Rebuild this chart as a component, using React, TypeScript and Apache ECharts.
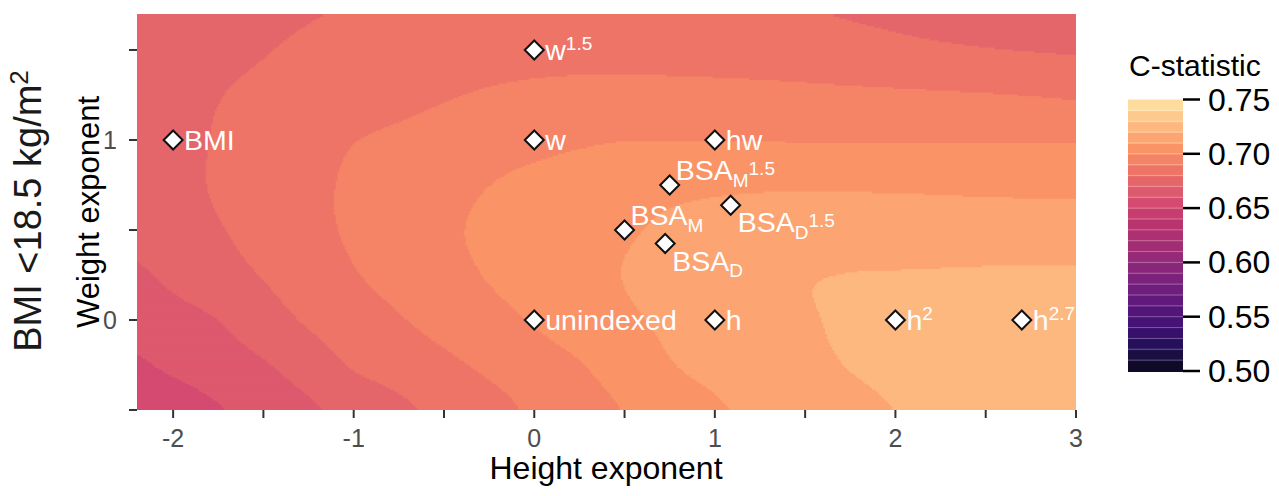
import React, { useEffect, useRef } from "react";
import * as echarts from "echarts";

const FONT = "'Liberation Sans', Arial, Helvetica, sans-serif";

// ---- C-statistic surface at a 0.25 x 0.25 lattice ----
// columns: height exponent, rows: weight exponent
const heightExponentGrid = [-2.25, -2.0, -1.75, -1.5, -1.25, -1.0, -0.75, -0.5, -0.25, 0, 0.25, 0.5, 0.75, 1.0, 1.25, 1.5, 1.75, 2.0, 2.25, 2.5, 2.75, 3.0];
const weightExponentGrid = [-0.5, -0.25, 0, 0.25, 0.5, 0.75, 1.0, 1.25, 1.5, 1.75];

const cStatW_m050 = [0.651, 0.6547, 0.6593, 0.6638, 0.6684, 0.6731, 0.6779, 0.6825, 0.687, 0.6914, 0.6961, 0.7003, 0.7046, 0.7088, 0.712, 0.7147, 0.7174, 0.7201, 0.722, 0.7235, 0.7245, 0.7252];
const cStatW_m025 = [0.658, 0.6617, 0.6654, 0.669, 0.6747, 0.6807, 0.6843, 0.6879, 0.6916, 0.6955, 0.6994, 0.7043, 0.7094, 0.7124, 0.7151, 0.7178, 0.7203, 0.7222, 0.7237, 0.7248, 0.7255, 0.7258];
const cStatW_000 = [0.6633, 0.6666, 0.6699, 0.6756, 0.681, 0.6851, 0.6892, 0.693, 0.6968, 0.7006, 0.7045, 0.7084, 0.7115, 0.7141, 0.7166, 0.7192, 0.7212, 0.7228, 0.724, 0.7249, 0.7254, 0.7256];
const cStatW_025 = [0.668, 0.6719, 0.6761, 0.6804, 0.6848, 0.6893, 0.6931, 0.6969, 0.7005, 0.7038, 0.707, 0.7102, 0.7124, 0.7148, 0.717, 0.7193, 0.7203, 0.7206, 0.7209, 0.7212, 0.7214, 0.7215];
const cStatW_050 = [0.6722, 0.6757, 0.6793, 0.6833, 0.6874, 0.6913, 0.6949, 0.6986, 0.7015, 0.704, 0.7066, 0.7091, 0.7112, 0.7125, 0.7135, 0.7142, 0.7146, 0.7148, 0.7149, 0.715, 0.715, 0.715];
const cStatW_075 = [0.6738, 0.6774, 0.6809, 0.6845, 0.688, 0.6913, 0.6942, 0.6971, 0.7, 0.7028, 0.705, 0.7068, 0.708, 0.7087, 0.7091, 0.7092, 0.7091, 0.7089, 0.7086, 0.7082, 0.708, 0.7078];
const cStatW_100 = [0.6745, 0.6776, 0.6806, 0.6836, 0.6867, 0.6898, 0.6917, 0.6935, 0.6953, 0.6971, 0.6989, 0.7, 0.7001, 0.7, 0.6999, 0.6998, 0.6998, 0.6997, 0.6997, 0.6996, 0.6996, 0.6995];
const cStatW_125 = [0.6759, 0.6778, 0.6798, 0.6817, 0.6836, 0.6855, 0.6875, 0.6894, 0.691, 0.6922, 0.693, 0.6933, 0.6934, 0.6933, 0.6931, 0.6927, 0.6922, 0.6917, 0.6912, 0.6907, 0.69, 0.6892];
const cStatW_150 = [0.6748, 0.6765, 0.6782, 0.6797, 0.6813, 0.6828, 0.6842, 0.6853, 0.6861, 0.6866, 0.6868, 0.6866, 0.6862, 0.6856, 0.6848, 0.6839, 0.6829, 0.682, 0.6812, 0.6805, 0.6799, 0.6794];
const cStatW_175 = [0.673, 0.6748, 0.6766, 0.6782, 0.6794, 0.6802, 0.6809, 0.6814, 0.6818, 0.682, 0.682, 0.6818, 0.6814, 0.681, 0.6805, 0.6799, 0.6793, 0.6787, 0.678, 0.6774, 0.6768, 0.6762];

const cStatGrid = [cStatW_m050, cStatW_m025, cStatW_000, cStatW_025, cStatW_050, cStatW_075, cStatW_100, cStatW_125, cStatW_150, cStatW_175];

// ---- indexing methods ----
const pointNames = ["BMI", "w^1.5", "w", "hw", "BSA_M^1.5", "BSA_D^1.5", "BSA_M", "BSA_D", "unindexed", "h", "h^2", "h^2.7"];
const pointHeightExp = [-2, 0, 0, 1, 0.75, 1.0875, 0.5, 0.725, 0, 1, 2, 2.7];
const pointWeightExp = [1, 1.5, 1, 1, 0.75, 0.6375, 0.5, 0.425, 0, 0, 0, 0];
const pointLabelSide = ["right", "right", "right", "right", "above", "below", "above", "below", "right", "right", "right", "right"];

// ---- colour scale ----
const binWidth = 0.01;
const scaleMin = 0.5;
const scaleMax = 0.75;
const binColors = [
  "#0F0A27", "#1A0E42", "#27105A", "#36106B", "#451275",
  "#53157A", "#611A7C", "#6E1E7D", "#7B227C", "#88267A",
  "#952A78", "#A12D74", "#AC3072", "#B8346F", "#C73D6F",
  "#D44A70", "#DD596D", "#E5666A", "#EE7467", "#F58467",
  "#FA9366", "#FCA572", "#FDB880", "#FDCA8E", "#FDDC9D",
];
const colourbarTicks = [0.5, 0.55, 0.6, 0.65, 0.7, 0.75];

// ---- axes ----
const xMin = -2.2, xMax = 3, yMin = -0.5, yMax = 1.7;
const xTickValues = [-2, -1.5, -1, -0.5, 0, 0.5, 1, 1.5, 2, 2.5, 3];
const xLabelValues = [-2, -1, 0, 1, 2, 3];
const yTickValues = [-0.5, 0, 0.5, 1, 1.5];
const yLabelValues = [0, 1];

function catmullRom(p0: number, p1: number, p2: number, p3: number, t: number) {
  return 0.5 * (2 * p1 + (-p0 + p2) * t + (2 * p0 - 5 * p1 + 4 * p2 - p3) * t * t + (-p0 + 3 * p1 - 3 * p2 + p3) * t * t * t);
}

function surface(x: number, y: number) {
  const nx = heightExponentGrid.length, ny = weightExponentGrid.length;
  const dx = heightExponentGrid[1] - heightExponentGrid[0];
  const dy = weightExponentGrid[1] - weightExponentGrid[0];
  const fx = (x - heightExponentGrid[0]) / dx;
  const fy = (y - weightExponentGrid[0]) / dy;
  const i = Math.max(0, Math.min(nx - 2, Math.floor(fx)));
  const j = Math.max(0, Math.min(ny - 2, Math.floor(fy)));
  const tx = fx - i, ty = fy - j;
  const g = (r: number, c: number) => cStatGrid[Math.max(0, Math.min(ny - 1, r))][Math.max(0, Math.min(nx - 1, c))];
  const rows: number[] = [];
  for (let r = j - 1; r <= j + 2; r++) {
    rows.push(catmullRom(g(r, i - 1), g(r, i), g(r, i + 1), g(r, i + 2), tx));
  }
  return catmullRom(rows[0], rows[1], rows[2], rows[3], ty);
}

const STEP = 0.01;
function buildRuns() {
  const runs: number[][] = [];
  const nyCells = Math.round((yMax - yMin) / STEP);
  const nxCells = Math.round((xMax - xMin) / STEP);
  const binOf = (v: number) => Math.max(0, Math.min(binColors.length - 1, Math.floor((v - scaleMin) / binWidth + 1e-9)));
  for (let r = 0; r < nyCells; r++) {
    const yc = yMin + (r + 0.5) * STEP;
    let start = xMin;
    let cur = binOf(surface(xMin + 0.5 * STEP, yc));
    for (let c = 1; c < nxCells; c++) {
      const xc = xMin + (c + 0.5) * STEP;
      const b = binOf(surface(xc, yc));
      if (b !== cur) {
        const edge = xMin + c * STEP;
        runs.push([start, edge, yc, cur]);
        start = edge;
        cur = b;
      }
    }
    runs.push([start, xMax, yc, cur]);
  }
  return runs;
}

function labelText(name: string) {
  const m = name.match(/^([^_^]+)(?:_([^^]+))?(?:\^(.+))?$/);
  if (!m) return `{b|${name}}`;
  let s = `{b|${m[1]}}`;
  if (m[2]) s += `{sub|${m[2]}}`;
  if (m[3]) s += m[2] ? `{sup2|${m[3]}}` : `{sup|${m[3]}}`;
  return s;
}

function labelOffset(side: string) {
  if (side === "above") return [6, -15];
  if (side === "below") return [7, 17];
  return [11, 0];
}

function tickSeries(xAxisIndex: number, yAxisIndex: number, values: number[], toPoint: (v: number) => number[], dx: number, dy: number, color: string, width: number) {
  return {
    type: "custom", xAxisIndex, yAxisIndex, silent: true, clip: false, z: 4,
    data: values.map((v) => [v]),
    encode: { x: -1, y: -1 },
    renderItem: (_p: any, api: any) => {
      const pt = api.coord(toPoint(api.value(0)));
      return { type: "line", shape: { x1: pt[0], y1: pt[1], x2: pt[0] + dx, y2: pt[1] + dy }, style: { stroke: color, lineWidth: width } };
    },
  };
}

export default function App() {
  const ref = useRef<HTMLDivElement>(null);
  useEffect(() => {
    if (!ref.current) return;
    const chart = echarts.init(ref.current, undefined, { renderer: "svg" });
    const runs = buildRuns();
    const binData = binColors.map((_, k) => [scaleMin + k * binWidth, scaleMin + (k + 1) * binWidth, k]);

    const richLabel = {
      b: { fontSize: 28.5, lineHeight: 28, color: "#fff", fontFamily: FONT },
      sup: { fontSize: 19, lineHeight: 19, color: "#fff", fontFamily: FONT, padding: [0, 0, 14, 0] },
      sup2: { fontSize: 19, lineHeight: 19, color: "#fff", fontFamily: FONT, padding: [0, 0, 4, 0] },
      sub: { fontSize: 19, lineHeight: 19, color: "#fff", fontFamily: FONT, padding: [20, 0, 0, 0] },
    };

    const option: any = {
      animation: false,
      backgroundColor: "#ffffff",
      textStyle: { fontFamily: FONT },
      grid: [
        { left: 137, top: 14, width: 939, height: 396, containLabel: false, outerBoundsMode: "none" },
        { left: 1128, top: 99.5, width: 55, height: 271.5, containLabel: false, outerBoundsMode: "none" },
      ],
      xAxis: [
        {
          type: "value", gridIndex: 0, min: xMin, max: xMax,
          axisLine: { show: false }, splitLine: { show: false }, axisTick: { show: false },
          axisLabel: { customValues: xLabelValues, color: "#4D4D4D", fontSize: 25, margin: 15, fontFamily: FONT, formatter: (v: number) => String(v) },
        },
        { type: "value", gridIndex: 1, min: 0, max: 1, show: false },
      ],
      yAxis: [
        {
          type: "value", gridIndex: 0, min: yMin, max: yMax,
          axisLine: { show: false }, splitLine: { show: false }, axisTick: { show: false },
          axisLabel: { customValues: yLabelValues, color: "#4D4D4D", fontSize: 25, margin: 20, fontFamily: FONT, formatter: (v: number) => String(v) },
        },
        {
          type: "value", gridIndex: 1, min: scaleMin, max: scaleMax, interval: 0.05, position: "right",
          axisLine: { show: false }, splitLine: { show: false }, axisTick: { show: false },
          axisLabel: { color: "#000000", fontSize: 32, margin: 25, fontFamily: FONT, formatter: (v: number) => v.toFixed(2) },
        },
      ],
      series: [
        {
          type: "custom", xAxisIndex: 0, yAxisIndex: 0, silent: true, clip: true, z: 1,
          encode: { x: [0, 1], y: 2 },
          data: runs,
          renderItem: (_p: any, api: any) => {
            const x0 = api.value(0), x1 = api.value(1), yc = api.value(2), k = api.value(3);
            const a = api.coord([x0, yc + STEP / 2]);
            const b = api.coord([x1, yc - STEP / 2]);
            return {
              type: "rect",
              shape: { x: a[0], y: a[1], width: b[0] - a[0] + 1.2, height: b[1] - a[1] + 1.2 },
              style: { fill: binColors[k] },
            };
          },
        },
        {
          type: "scatter", xAxisIndex: 0, yAxisIndex: 0, z: 3,
          symbol: "diamond", symbolSize: 19,
          itemStyle: { color: "#ffffff", borderColor: "#111111", borderWidth: 2, opacity: 1 },
          label: {
            show: true, position: "inside", align: "left", verticalAlign: "middle",
            color: "#ffffff", fontSize: 28.5, fontFamily: FONT, rich: richLabel,
          },
          data: pointNames.map((n, i) => ({
            value: [pointHeightExp[i], pointWeightExp[i]],
            label: { formatter: labelText(n), offset: labelOffset(pointLabelSide[i]) },
          })),
        },
        {
          type: "custom", xAxisIndex: 1, yAxisIndex: 1, silent: true, z: 1,
          encode: { x: -1, y: [0, 1] },
          data: binData,
          renderItem: (_p: any, api: any) => {
            const lo = api.value(0), hi = api.value(1), k = api.value(2);
            const a = api.coord([0, hi]);
            const b = api.coord([1, lo]);
            const children: any[] = [
              { type: "rect", shape: { x: a[0], y: a[1], width: b[0] - a[0], height: b[1] - a[1] + 1 }, style: { fill: binColors[k] } },
            ];
            if (k > 0) {
              children.push({ type: "line", shape: { x1: a[0], y1: b[1], x2: b[0], y2: b[1] }, style: { stroke: "rgba(255,255,255,0.3)", lineWidth: 1 } });
            }
            return { type: "group", children };
          },
        },
        tickSeries(0, 0, xTickValues, (v) => [v, yMin], 0, 8, "#333333", 2),
        tickSeries(0, 0, yTickValues, (v) => [xMin, v], -8, 0, "#333333", 2),
        tickSeries(1, 1, colourbarTicks, (v) => [1, v], 17, 0, "#000000", 2.5),
      ],
      graphic: [
        { type: "text", x: 606, y: 468, style: { text: "Height exponent", fill: "#000", fontSize: 32, fontFamily: FONT, align: "center", verticalAlign: "middle" } },
        { type: "text", x: 88, y: 212, rotation: Math.PI / 2, style: { text: "Weight exponent", fill: "#000", fontSize: 31, fontFamily: FONT, align: "center", verticalAlign: "middle" } },
        {
          type: "text", x: 28, y: 211, rotation: Math.PI / 2,
          style: {
            text: "{a|BMI <18.5 kg/m}{s|2}", align: "center", verticalAlign: "middle",
            rich: {
              a: { fontSize: 38, lineHeight: 38, fill: "#1A1A1A", color: "#1A1A1A", fontFamily: FONT },
              s: { fontSize: 26, lineHeight: 26, fill: "#1A1A1A", color: "#1A1A1A", fontFamily: FONT, padding: [0, 0, 18, 0] },
            },
          },
        },
        { type: "text", x: 1129, y: 65, style: { text: "C-statistic", fill: "#000", fontSize: 30, fontFamily: FONT, align: "left", verticalAlign: "middle" } },
      ],
    };
    chart.setOption(option);
    return () => chart.dispose();
  }, []);
  return <div ref={ref} style={{ position: "fixed", left: 0, top: 0, width: 1279, height: 496, background: "#fff" }} />;
}
